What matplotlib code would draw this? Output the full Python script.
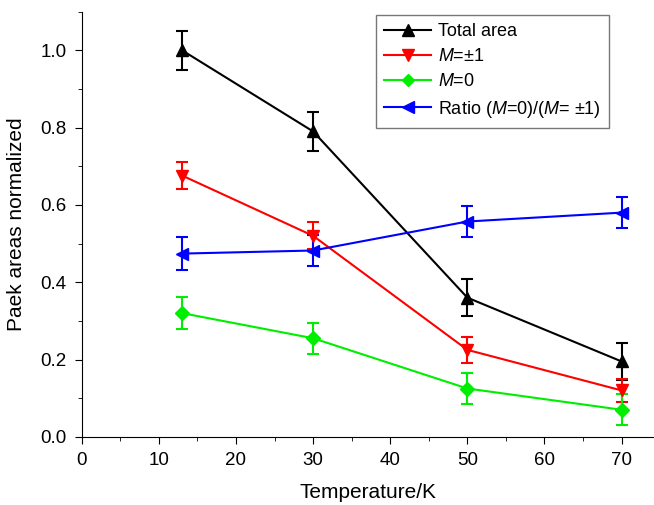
import matplotlib
matplotlib.use('Agg')
import matplotlib.pyplot as plt
from matplotlib.ticker import MultipleLocator
from matplotlib.lines import Line2D

plt.rcParams['font.family'] = ['Liberation Sans', 'DejaVu Sans']
plt.rcParams['mathtext.fontset'] = 'custom'
plt.rcParams['mathtext.it'] = 'Liberation Sans:italic'
plt.rcParams['mathtext.rm'] = 'Liberation Sans'

# data
temps = [13, 30, 50, 70]
total_area = [1.0, 0.79, 0.36, 0.195]
total_err = [0.05, 0.05, 0.047, 0.047]
m_pm1 = [0.676, 0.52, 0.225, 0.12]
m_pm1_err = [0.035, 0.035, 0.034, 0.03]
m_0 = [0.32, 0.255, 0.125, 0.07]
m_0_err = [0.042, 0.04, 0.04, 0.04]
ratio = [0.474, 0.482, 0.557, 0.58]
ratio_err = [0.042, 0.04, 0.04, 0.04]

fig = plt.figure(figsize=(6.54, 5.05), dpi=100)
ax = fig.add_axes([0.125, 0.135, 0.875, 0.842])

series = [
    (total_area, total_err, 'black', '^', 'Total area'),
    (m_pm1, m_pm1_err, 'red', 'v', '$M$=±1'),
    (m_0, m_0_err, '#00ee00', 'D', '$M$=0'),
    (ratio, ratio_err, 'blue', '<', 'Ratio ($M$=0)/($M$= ±1)'),
]
handles = []
for vals, errs, col, mk, lab in series:
    ms = 7 if mk == 'D' else 9
    ax.errorbar(temps, vals, yerr=errs, color=col, marker=mk, markersize=ms,
                lw=1.5, elinewidth=1.5, capsize=4, capthick=1.5)
    handles.append(Line2D([], [], color=col, marker=mk, markersize=ms - 1,
                          lw=1.5, label=lab))

ax.set_xlim(0, 74.2)
ax.set_ylim(0, 1.1)
ax.xaxis.set_major_locator(MultipleLocator(10))
ax.xaxis.set_minor_locator(MultipleLocator(5))
ax.yaxis.set_major_locator(MultipleLocator(0.2))
ax.yaxis.set_minor_locator(MultipleLocator(0.1))
ax.tick_params(which='both', direction='out', labelsize=13.5)
ax.tick_params(which='major', length=5, pad=6)
ax.tick_params(which='minor', length=3)
ax.spines['top'].set_visible(False)
ax.spines['right'].set_visible(False)

ax.set_xlabel('Temperature/K', fontsize=15, labelpad=10)
ax.set_ylabel('Paek areas normalized', fontsize=15, labelpad=10)

leg = ax.legend(handles=handles, loc='upper left',
                bbox_to_anchor=(376 / 654, 1 - 15 / 505),
                bbox_transform=fig.transFigure, fontsize=13, frameon=True,
                fancybox=False, edgecolor='#555555', handlelength=2.6,
                borderpad=0.45, labelspacing=0.45, handletextpad=0.4,
                borderaxespad=0)
leg.get_frame().set_linewidth(1.0)

plt.savefig('out.png', dpi=100)
